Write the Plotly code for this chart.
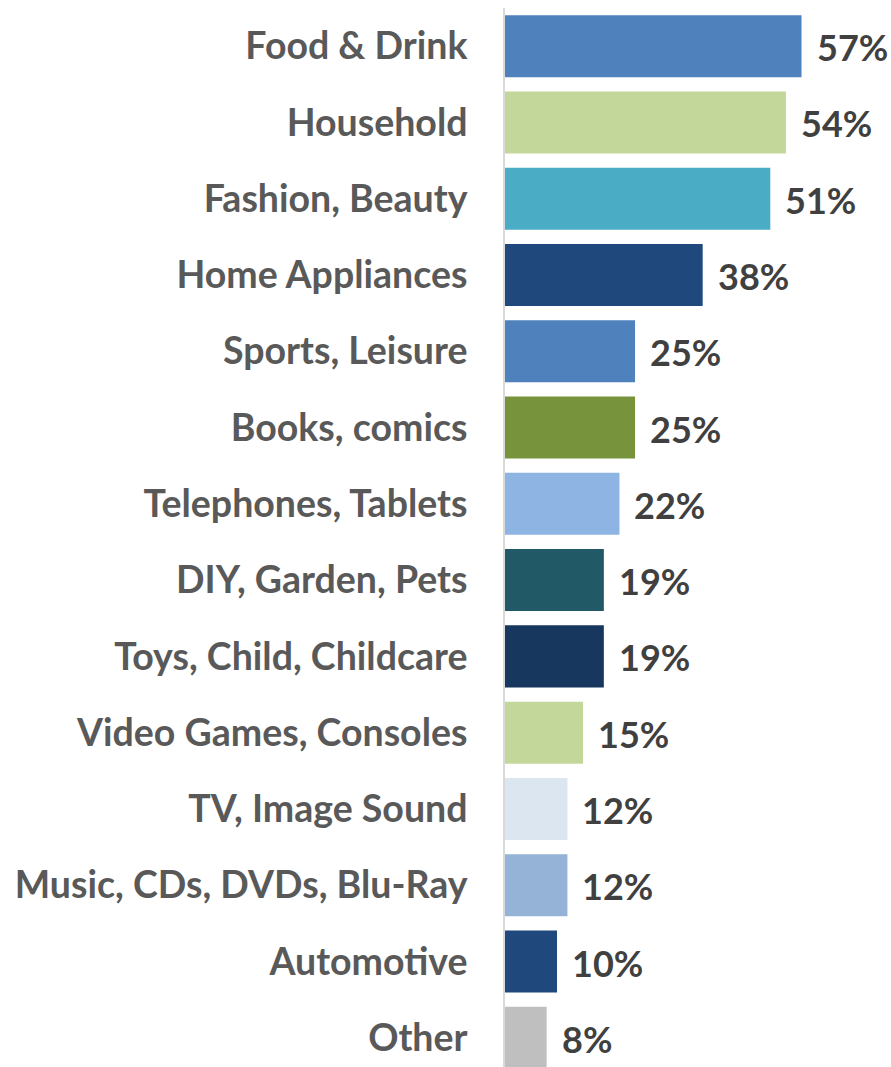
import plotly.graph_objects as go

categories = [
    "Food & Drink", "Household", "Fashion, Beauty", "Home Appliances",
    "Sports, Leisure", "Books, comics", "Telephones, Tablets",
    "DIY, Garden, Pets", "Toys, Child, Childcare", "Video Games, Consoles",
    "TV, Image Sound", "Music, CDs, DVDs, Blu-Ray", "Automotive", "Other",
]
values = [57, 54, 51, 38, 25, 25, 22, 19, 19, 15, 12, 12, 10, 8]
bar_colors = [
    "#4F81BD", "#C4D79B", "#4BACC6", "#1F497D", "#4F81BD", "#77933C",
    "#8DB4E2", "#215967", "#17375E", "#C4D79B", "#DCE6F1", "#95B3D7",
    "#1F497D", "#BFBFBF",
]

FONT = "Lato, 'Open Sans', sans-serif"

fig = go.Figure(
    go.Bar(
        x=values,
        y=categories,
        orientation="h",
        marker=dict(color=bar_colors, line=dict(width=0)),
        hoverinfo="skip",
    )
)

# value labels just beyond each bar end
for cat, val in zip(categories, values):
    fig.add_annotation(
        x=val, y=cat, text=f"{val}%", showarrow=False,
        xanchor="left", yanchor="middle", xshift=13, yshift=-1,
        font=dict(family=FONT, size=36, color="#404040", weight="bold"),
    )

fig.update_layout(
    width=891, height=1067,
    margin=dict(l=505, r=0, t=8, b=0),
    paper_bgcolor="white", plot_bgcolor="white",
    bargap=0.187,
    showlegend=False,
    xaxis=dict(range=[0, 74.2], visible=False, fixedrange=True),
    yaxis=dict(
        categoryorder="array", categoryarray=categories,
        range=[13.383, -0.5],
        showline=True, linecolor="#D9D9D9", linewidth=2,
        showgrid=False, zeroline=False, ticks="",
        ticklabelstandoff=28, automargin=False,
        tickfont=dict(family=FONT, size=37.5, color="#595959", weight="bold"),
    ),
)

fig.write_html("out.html")
